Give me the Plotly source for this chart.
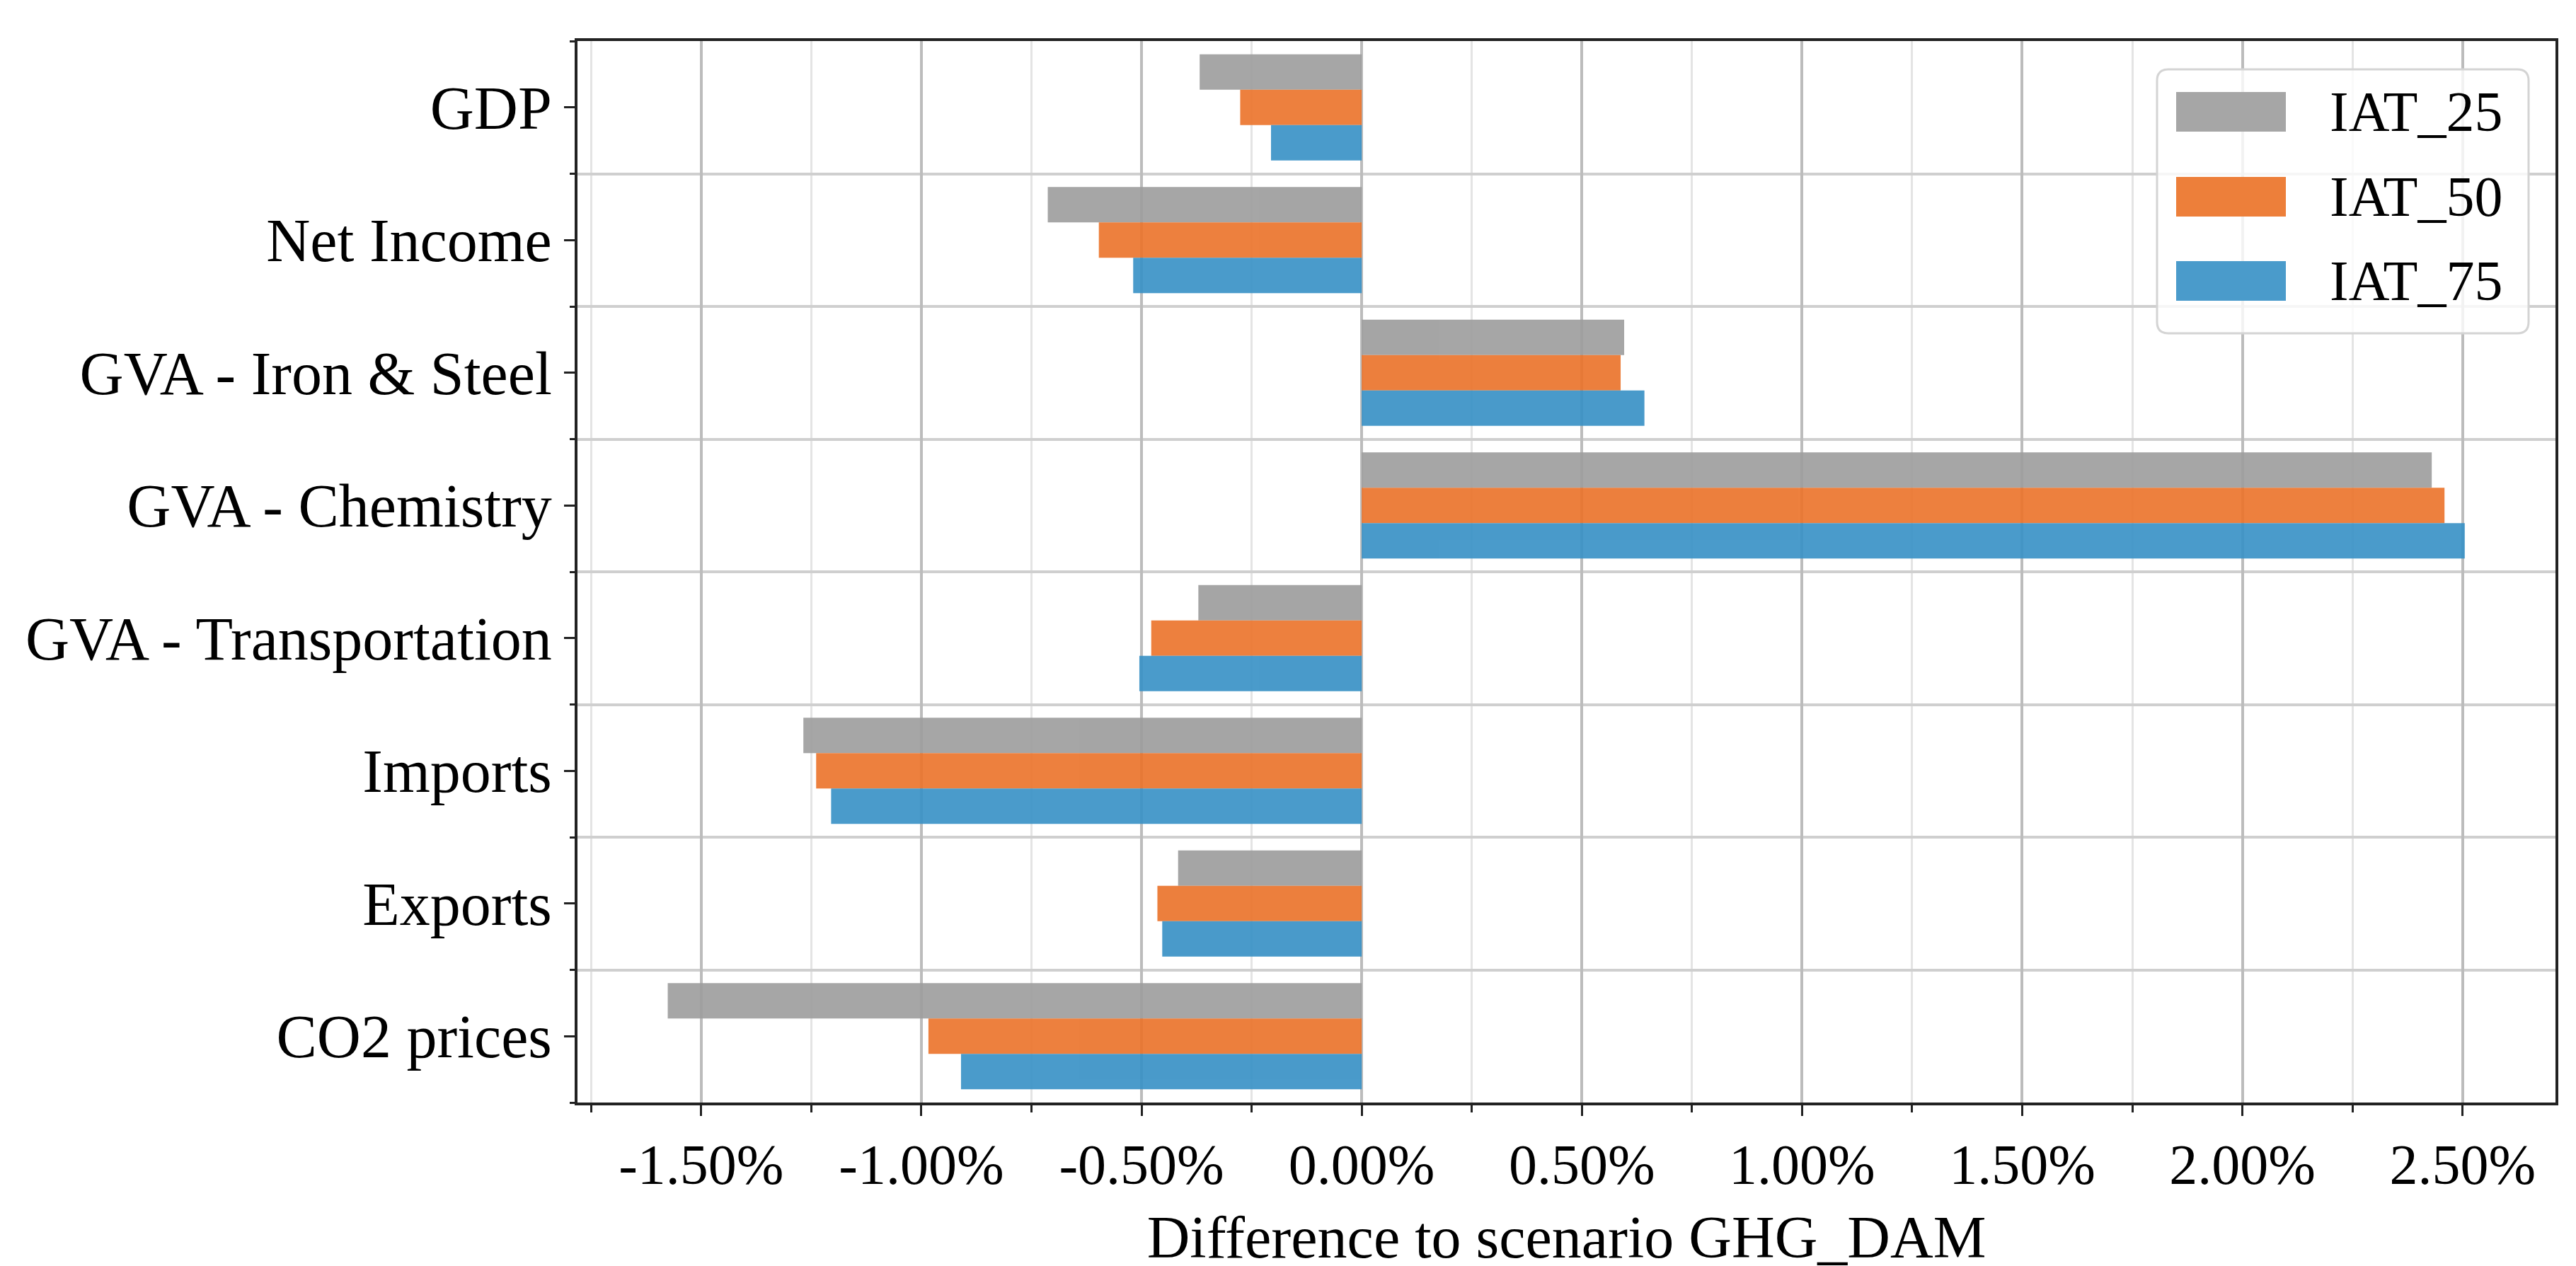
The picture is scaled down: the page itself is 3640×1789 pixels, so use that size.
import plotly.graph_objects as go

# ---------------- data ----------------
categories = ["GDP", "Net Income", "GVA - Iron & Steel", "GVA - Chemistry",
              "GVA - Transportation", "Imports", "Exports", "CO2 prices"]
series_names = ["IAT_25", "IAT_50", "IAT_75"]
iat_25 = [-0.368, -0.713, 0.596, 2.430, -0.371, -1.268, -0.417, -1.576]
iat_50 = [-0.276, -0.597, 0.588, 2.459, -0.478, -1.239, -0.464, -0.984]
iat_75 = [-0.206, -0.519, 0.642, 2.505, -0.505, -1.205, -0.453, -0.910]
x_tick_values = [-1.5, -1.0, -0.5, 0.0, 0.5, 1.0, 1.5, 2.0, 2.5]
x_tick_labels = ["-1.50%", "-1.00%", "-0.50%", "0.00%", "0.50%",
                 "1.00%", "1.50%", "2.00%", "2.50%"]
x_title = "Difference to scenario GHG_DAM"

# ---------------- style ----------------
colors = ["#9C9C9C", "#EB7229", "#3690C5"]
legend_colors = ["#A6A6A6", "#ED7F3A", "#4A9BCB"]
FONT = "Liberation Serif"
W, H = 3640, 1789
L, R, T, B = 808, 37, 50, 239
pw, ph = W - L - R, H - T - B

ypos = list(range(len(categories)))
fig = go.Figure()
for name, vals, col in zip(series_names, [iat_25, iat_50, iat_75], colors):
    fig.add_trace(go.Bar(
        y=ypos, x=vals, name=name, orientation="h",
        marker=dict(color=col, line=dict(width=0)), opacity=0.9,
        showlegend=False,
    ))


def px2paper(px, py):
    return (px - L) / pw, (H - B - py) / ph


# custom legend (matplotlib-like, rounded frame)
bx0, by0, bx1, by1 = 3040, 90, 3565, 463
r = 16
rx, ry = r / pw, r / ph
x0, y1 = px2paper(bx0, by0)
x1, y0 = px2paper(bx1, by1)
path = (f"M{x0+rx},{y1} L{x1-rx},{y1} Q{x1},{y1} {x1},{y1-ry} "
        f"L{x1},{y0+ry} Q{x1},{y0} {x1-rx},{y0} L{x0+rx},{y0} "
        f"Q{x0},{y0} {x0},{y0+ry} L{x0},{y1-ry} Q{x0},{y1} {x0+rx},{y1} Z")
shapes = [dict(type="path", path=path, xref="paper", yref="paper",
               fillcolor="rgba(255,255,255,0.8)",
               line=dict(color="#d4d4d4", width=3), layer="above")]
annotations = []
row_y = [150, 270, 389]
for name, col, cy in zip(series_names, legend_colors, row_y):
    px0, py0 = px2paper(3067, cy - 28)
    px1, py1 = px2paper(3222, cy + 28)
    shapes.append(dict(type="rect", xref="paper", yref="paper",
                       x0=px0, x1=px1, y0=py1, y1=py0,
                       fillcolor=col, line=dict(width=0), layer="above"))
    ax, ay = px2paper(3282, cy)
    annotations.append(dict(text=name, x=ax, y=ay, xref="paper", yref="paper",
                            xanchor="left", yanchor="middle", showarrow=False,
                            font=dict(family=FONT, size=80, color="black")))

fig.update_layout(
    width=W, height=H,
    margin=dict(l=L, r=R, t=T, b=B, pad=0),
    paper_bgcolor="white", plot_bgcolor="white",
    barmode="group", bargap=0.2, bargroupgap=0,
    font=dict(family=FONT, size=80, color="black"),
    shapes=shapes, annotations=annotations,
)
fig.update_xaxes(
    range=[-1.781, 2.711],
    tickmode="array", tickvals=x_tick_values, ticktext=x_tick_labels,
    ticks="outside", ticklen=15, tickwidth=3, tickcolor="#222222",
    tickfont=dict(family=FONT, size=80, color="black"),
    showgrid=True, gridcolor="#bcbcbc", gridwidth=4,
    zeroline=False,
    minor=dict(tickmode="linear", tick0=0, dtick=0.25, ticks="outside",
               ticklen=10, tickwidth=3, tickcolor="#222222",
               showgrid=True, gridcolor="#e4e4e4", gridwidth=3),
    showline=True, linecolor="#222222", linewidth=4, mirror=True,
    title=dict(text=x_title, font=dict(family=FONT, size=84, color="black"),
               standoff=30),
)
fig.update_yaxes(
    range=[len(categories) - 0.5, -0.5],
    tickmode="array", tickvals=ypos, ticktext=categories,
    ticks="outside", ticklen=15, tickwidth=3, tickcolor="#222222",
    tickfont=dict(family=FONT, size=86, color="black"),
    showgrid=False, zeroline=False,
    minor=dict(tickmode="array", tickvals=[i - 0.5 for i in range(len(categories) + 1)],
               ticks="outside", ticklen=7, tickwidth=3, tickcolor="#222222",
               showgrid=True, gridcolor="#cfcfcf", gridwidth=4),
    showline=True, linecolor="#222222", linewidth=4, mirror=True,
)

fig.write_html("out.html")
